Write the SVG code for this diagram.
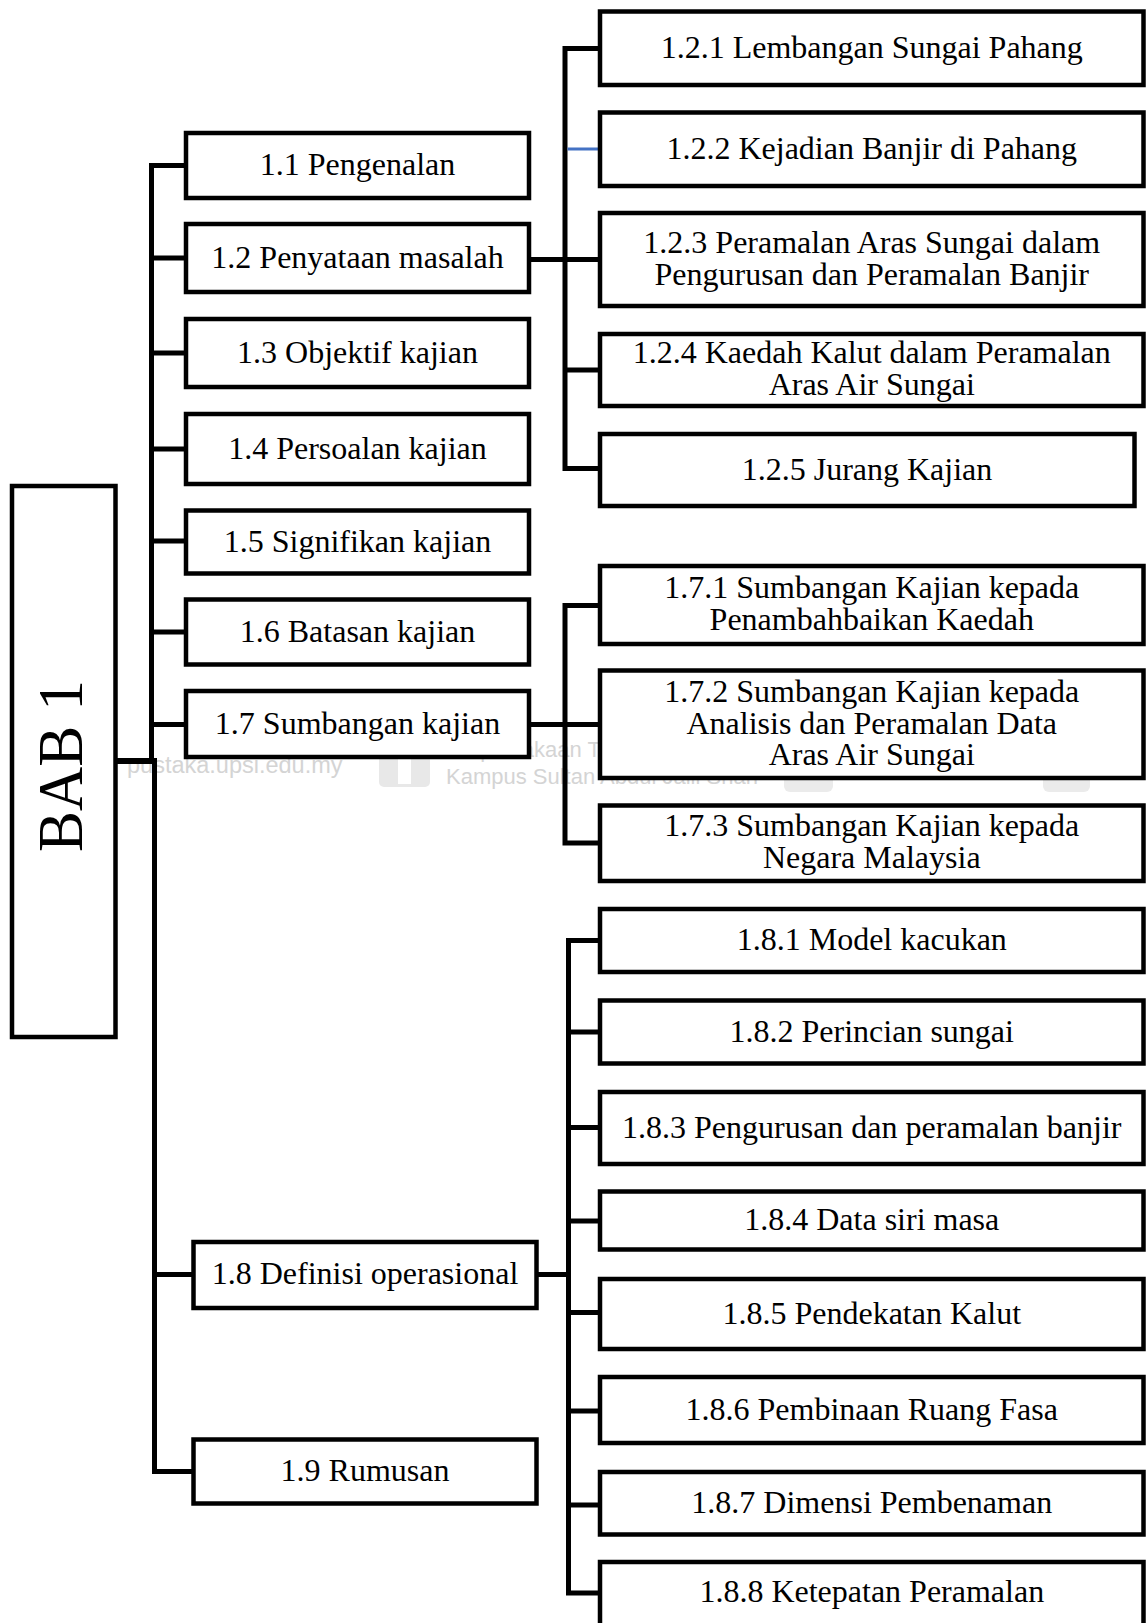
<svg xmlns="http://www.w3.org/2000/svg" width="1147" height="1623" viewBox="0 0 1147 1623">
<style>
  .box { fill: #ffffff; stroke: #000000; stroke-width: 4.5; }
  .lbl { font-family: "Liberation Serif", "Times New Roman", serif; font-size: 32px; fill: #000000; text-anchor: middle; }
  .big { font-family: "Liberation Serif", "Times New Roman", serif; font-size: 64px; fill: #000000; text-anchor: middle; }
  .con { fill: none; stroke: #000000; stroke-width: 5; stroke-linejoin: miter; }
  .blue { fill: none; stroke: #4472C4; stroke-width: 3; }
  .wm { font-family: "Liberation Sans", Arial, sans-serif; font-size: 22px; fill: #d4d4d4; }
</style>
<rect x="0" y="0" width="1147" height="1623" fill="#ffffff"/>

<g id="watermark">
  <text class="wm" x="127" y="773" style="font-size:23.5px">pustaka.upsi.edu.my</text>
  <rect x="379" y="755" width="51" height="32" rx="5" fill="#e8e8e8"/>
  <rect x="398" y="757" width="13" height="27" fill="#ffffff"/>
  <text class="wm" x="446" y="757">Perpustakaan Tuanku Bainun</text>
  <text class="wm" x="446" y="784">Kampus Sultan Abdul Jalil Shah</text>
  <rect x="784" y="770" width="49" height="22" rx="6" fill="#ebebeb"/>
  <rect x="1043" y="770" width="47" height="22" rx="6" fill="#ebebeb"/>
</g>

<g id="connectors">
  <path class="con" d="M186,165.5 H151.5 V762"/>
  <path class="con" d="M151.5,258 H186"/>
  <path class="con" d="M151.5,353 H186"/>
  <path class="con" d="M151.5,449 H186"/>
  <path class="con" d="M151.5,541 H186"/>
  <path class="con" d="M151.5,632 H186"/>
  <path class="con" d="M151.5,724.5 H186"/>
  <path class="con" d="M115,761 H157" style="stroke-width:6"/>
  <path class="con" d="M154.5,758 V1471.5 H193.5"/>
  <path class="con" d="M154.5,1274.5 H193.5"/>

  <path class="con" d="M600,48.5 H565 V468.5 H600"/>
  <path class="con" d="M529,259.5 H600"/>
  <path class="con" d="M565,370 H600"/>
  <path class="blue" d="M567.5,149 H600"/>

  <path class="con" d="M600,605.5 H565 V843 H600"/>
  <path class="con" d="M529,724.5 H600"/>

  <path class="con" d="M600,940.5 H568.5 V1593 H600"/>
  <path class="con" d="M536.5,1274.5 H568.5"/>
  <path class="con" d="M568.5,1032 H600"/>
  <path class="con" d="M568.5,1127.5 H600"/>
  <path class="con" d="M568.5,1221 H600"/>
  <path class="con" d="M568.5,1312.5 H600"/>
  <path class="con" d="M568.5,1411 H600"/>
  <path class="con" d="M568.5,1505 H600"/>
</g>

<g id="bab1">
  <rect class="box" x="12" y="486" width="103.5" height="551"/>
  <text class="big" transform="translate(82,766) rotate(-90)" textLength="172" lengthAdjust="spacingAndGlyphs">BAB 1</text>
</g>

<g id="n1-1"><rect class="box" x="186" y="133" width="343" height="65"/><text class="lbl" x="357.5" y="175">1.1 Pengenalan</text></g>
<g id="n1-2"><rect class="box" x="186" y="224" width="343" height="68"/><text class="lbl" x="357.5" y="267.5">1.2 Penyataan masalah</text></g>
<g id="n1-3"><rect class="box" x="186" y="319" width="343" height="68"/><text class="lbl" x="357.5" y="362.5">1.3 Objektif kajian</text></g>
<g id="n1-4"><rect class="box" x="186" y="414" width="343" height="70"/><text class="lbl" x="357.5" y="458.5">1.4 Persoalan kajian</text></g>
<g id="n1-5"><rect class="box" x="186" y="510.5" width="343" height="63"/><text class="lbl" x="357.5" y="551.5">1.5 Signifikan kajian</text></g>
<g id="n1-6"><rect class="box" x="186" y="599.5" width="343" height="65"/><text class="lbl" x="357.5" y="641.5">1.6 Batasan kajian</text></g>
<g id="n1-7"><rect class="box" x="186" y="691" width="343" height="66"/><text class="lbl" x="357.5" y="733.5">1.7 Sumbangan kajian</text></g>
<g id="n1-8"><rect class="box" x="193.5" y="1242" width="343" height="66"/><text class="lbl" x="365" y="1284">1.8 Definisi operasional</text></g>
<g id="n1-9"><rect class="box" x="193.5" y="1439.5" width="343" height="64"/><text class="lbl" x="365" y="1481">1.9 Rumusan</text></g>

<g id="n1-2-1"><rect class="box" x="600" y="11.5" width="543.5" height="73.5"/><text class="lbl" x="871.75" y="58">1.2.1 Lembangan Sungai Pahang</text></g>
<g id="n1-2-2"><rect class="box" x="600" y="112.5" width="543.5" height="73.5"/><text class="lbl" x="871.75" y="158.5">1.2.2 Kejadian Banjir di Pahang</text></g>
<g id="n1-2-3"><rect class="box" x="600" y="213" width="543.5" height="93"/><text class="lbl" x="871.75" y="253">1.2.3 Peramalan Aras Sungai dalam</text><text class="lbl" x="871.75" y="285">Pengurusan dan Peramalan Banjir</text></g>
<g id="n1-2-4"><rect class="box" x="600" y="334" width="543.5" height="72"/><text class="lbl" x="871.75" y="363">1.2.4 Kaedah Kalut dalam Peramalan</text><text class="lbl" x="871.75" y="395">Aras Air Sungai</text></g>
<g id="n1-2-5"><rect class="box" x="600" y="434" width="534.5" height="72"/><text class="lbl" x="867" y="479.5">1.2.5 Jurang Kajian</text></g>

<g id="n1-7-1"><rect class="box" x="600" y="566" width="543.5" height="78"/><text class="lbl" x="871.75" y="597.5">1.7.1 Sumbangan Kajian kepada</text><text class="lbl" x="871.75" y="629.5">Penambahbaikan Kaedah</text></g>
<g id="n1-7-2"><rect class="box" x="600" y="670.5" width="543.5" height="107.5"/><text class="lbl" x="871.75" y="701.5">1.7.2 Sumbangan Kajian kepada</text><text class="lbl" x="871.75" y="733.5">Analisis dan Peramalan Data</text><text class="lbl" x="871.75" y="765">Aras Air Sungai</text></g>
<g id="n1-7-3"><rect class="box" x="600" y="805.5" width="543.5" height="75.5"/><text class="lbl" x="871.75" y="836">1.7.3 Sumbangan Kajian kepada</text><text class="lbl" x="871.75" y="868">Negara Malaysia</text></g>

<g id="n1-8-1"><rect class="box" x="600" y="909" width="543.5" height="63"/><text class="lbl" x="871.75" y="950">1.8.1 Model kacukan</text></g>
<g id="n1-8-2"><rect class="box" x="600" y="1000.5" width="543.5" height="63"/><text class="lbl" x="871.75" y="1041.5">1.8.2 Perincian sungai</text></g>
<g id="n1-8-3"><rect class="box" x="600" y="1092" width="543.5" height="72"/><text class="lbl" x="871.75" y="1137.5">1.8.3 Pengurusan dan peramalan banjir</text></g>
<g id="n1-8-4"><rect class="box" x="600" y="1191.5" width="543.5" height="58"/><text class="lbl" x="871.75" y="1230">1.8.4 Data siri masa</text></g>
<g id="n1-8-5"><rect class="box" x="600" y="1279" width="543.5" height="70"/><text class="lbl" x="871.75" y="1323.5">1.8.5 Pendekatan Kalut</text></g>
<g id="n1-8-6"><rect class="box" x="600" y="1377" width="543.5" height="66"/><text class="lbl" x="871.75" y="1419.5">1.8.6 Pembinaan Ruang Fasa</text></g>
<g id="n1-8-7"><rect class="box" x="600" y="1472" width="543.5" height="62.5"/><text class="lbl" x="871.75" y="1513">1.8.7 Dimensi Pembenaman</text></g>
<g id="n1-8-8"><rect class="box" x="600" y="1562" width="543.5" height="75"/><text class="lbl" x="871.75" y="1602">1.8.8 Ketepatan Peramalan</text></g>
</svg>
